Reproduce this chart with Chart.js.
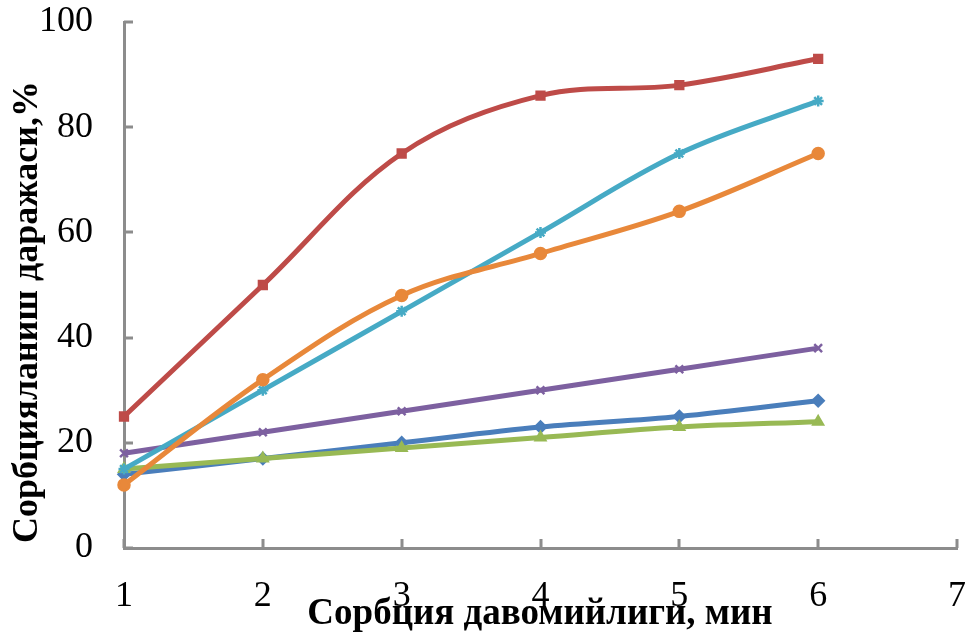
<!DOCTYPE html>
<html>
<head>
<meta charset="utf-8">
<script src="https://cdn.jsdelivr.net/npm/chart.js@4/dist/chart.umd.min.js"></script>
<style>
  html, body { margin: 0; padding: 0; background: #fff; }
  #box { width: 965px; height: 636px; }
</style>
</head>
<body>
<div id="box"><canvas id="chart" width="965" height="636"></canvas></div>
<script>
// sorption time, min
const times = [1, 2, 3, 4, 5, 6];
const xTicks = [1, 2, 3, 4, 5, 6, 7];
const yTicks = [0, 20, 40, 60, 80, 100];

// degree of sorption, %
const blueVals   = [14, 17, 20, 23, 25, 28];
const redVals    = [25, 50, 75, 86, 88, 93];
const greenVals  = [15, 17, 19, 21, 23, 24];
const purpleVals = [18, 22, 26, 30, 34, 38];
const cyanVals   = [15, 30, 45, 60, 75, 85];
const orangeVals = [12, 32, 48, 56, 64, 75];

const xTitle = "Сорбция давомийлиги, мин";
const yTitle = "Сорбцияланиш даражаси,%";

const axisGray = "#8c8c8c";

const makeSet = (vals, color, style, order) => ({
  data: vals.map((v, i) => ({ x: times[i], y: v })),
  borderColor: color,
  backgroundColor: color,
  borderWidth: 5,
  pointStyle: style,
  pointRadius: 5.5,
  pointBorderWidth: 2.5,
  tension: 0.35,
  clip: false,
  order: order
});

// inner tick marks + axis titles
const axisExtras = {
  id: "axisExtras",
  afterDraw(chart) {
    const ctx = chart.ctx;
    const xs = chart.scales.x, ys = chart.scales.y;
    const area = chart.chartArea;
    ctx.save();
    ctx.strokeStyle = axisGray;
    ctx.lineWidth = 3;
    ctx.beginPath();
    yTicks.forEach(v => {
      const py = Math.round(ys.getPixelForValue(v));
      ctx.moveTo(area.left, py);
      ctx.lineTo(area.left + 9, py);
    });
    xTicks.forEach(v => {
      const px = Math.round(xs.getPixelForValue(v));
      ctx.moveTo(px, area.bottom);
      ctx.lineTo(px, area.bottom - 9);
    });
    ctx.stroke();

    ctx.fillStyle = "#000";
    ctx.font = "bold 37px 'Liberation Serif'";
    ctx.textAlign = "center";
    ctx.textBaseline = "middle";
    ctx.fillText(xTitle, 540, 614);

    ctx.font = "bold 36px 'Liberation Serif'";
    ctx.save();
    ctx.translate(28, 312);
    ctx.rotate(-Math.PI / 2);
    ctx.fillText(yTitle, 0, 0);
    ctx.restore();
    ctx.restore();
  }
};

const noPad = s => { s.paddingTop = 0; s.paddingRight = 0; s.paddingBottom = 0; s.paddingLeft = 0; };

new Chart(document.getElementById("chart"), {
  type: "line",
  data: {
    datasets: [
      makeSet(blueVals,   "#4a7ebb", "rectRot", 5),
      makeSet(redVals,    "#be4b48", "rect", 4),
      makeSet(greenVals,  "#98b954", "triangle", 3),
      makeSet(purpleVals, "#7d60a0", "crossRot", 2),
      makeSet(cyanVals,   "#46aac5", "star", 1),
      makeSet(orangeVals, "#e8883a", "circle", 0)
    ]
  },
  plugins: [axisExtras],
  options: {
    responsive: false,
    animation: false,
    layout: { padding: { top: 22, right: 7, left: 0, bottom: 0 } },
    plugins: {
      legend: { display: false },
      tooltip: { enabled: false }
    },
    scales: {
      x: {
        type: "linear",
        min: 1,
        max: 7,
        afterBuildTicks: s => { s.ticks = xTicks.map(v => ({ value: v })); },
        afterFit: s => { s.height = 88; noPad(s); },
        grid: { display: false, drawTicks: false },
        border: { color: axisGray, width: 3 },
        ticks: {
          color: "#000",
          padding: 27,
          maxRotation: 0,
          font: { family: "'Liberation Serif'", size: 36 }
        }
      },
      y: {
        min: 0,
        max: 100,
        afterBuildTicks: s => { s.ticks = yTicks.map(v => ({ value: v })); },
        afterFit: s => { s.width = 124; noPad(s); },
        grid: { display: false, drawTicks: false },
        border: { color: axisGray, width: 3 },
        ticks: {
          color: "#000",
          padding: 31,
          font: { family: "'Liberation Serif'", size: 36 }
        }
      }
    }
  }
});
</script>
</body>
</html>
